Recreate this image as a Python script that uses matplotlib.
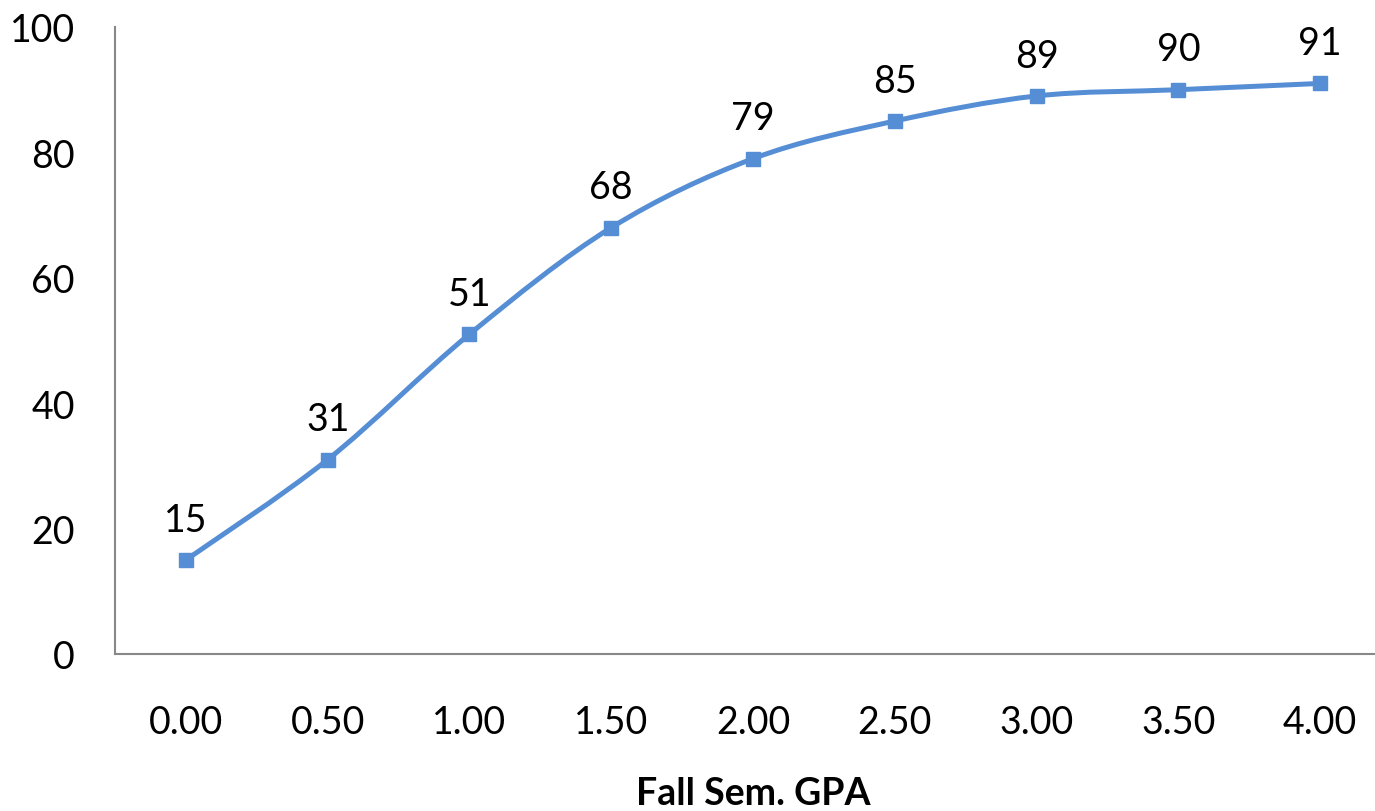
import numpy as np
import matplotlib
matplotlib.use("Agg")
import matplotlib.pyplot as plt
from matplotlib.path import Path
from matplotlib.patches import PathPatch

categories = ["0.00", "0.50", "1.00", "1.50", "2.00", "2.50", "3.00", "3.50", "4.00"]
values = [15, 31, 51, 68, 79, 85, 89, 90, 91]
y_ticks = [0, 20, 40, 60, 80, 100]
x_title = "Fall Sem. GPA"

plt.rcParams['font.family'] = ['Lato', 'DejaVu Sans']
line_color = "#558ED5"
fs = 27

fig = plt.figure(figsize=(13.75, 8.12), dpi=100)
W, H = 1375, 812
left, right, top, bottom = 115, 1391, 28, 655
ax = fig.add_axes([left / W, 1 - bottom / H, (right - left) / W, (bottom - top) / H])

x = np.arange(len(categories)) + 0.5
y = np.array(values, dtype=float)

# Smoothed line: Catmull-Rom style cubic Bezier segments through the points
verts = [(x[0], y[0])]
codes = [Path.MOVETO]
n = len(x)
for i in range(n - 1):
    p0 = np.array([x[max(i - 1, 0)], y[max(i - 1, 0)]])
    p1 = np.array([x[i], y[i]])
    p2 = np.array([x[i + 1], y[i + 1]])
    p3 = np.array([x[min(i + 2, n - 1)], y[min(i + 2, n - 1)]])
    c1 = p1 + (p2 - p0) / 6.0
    c2 = p2 - (p3 - p1) / 6.0
    verts += [tuple(c1), tuple(c2), tuple(p2)]
    codes += [Path.CURVE4] * 3
ax.add_patch(PathPatch(Path(verts, codes), facecolor="none", edgecolor=line_color,
                       lw=3.6, capstyle="round", joinstyle="round", zorder=2))
ax.plot(x, y, linestyle="none", marker="s", markersize=10.5, color=line_color, zorder=3)

for xi, yi in zip(x, values):
    ax.annotate(f"{yi:g}", (xi, yi), xytext=(0, 16), textcoords="offset points",
                ha="center", va="bottom", fontsize=fs, color="black")

ax.set_xlim(0, len(categories))
ax.set_ylim(0, 100)
ax.set_yticks(y_ticks)
ax.set_yticklabels([str(t) for t in y_ticks], fontsize=fs)
ax.set_xticks(x)
ax.set_xticklabels(categories, fontsize=fs)
ax.tick_params(axis="both", length=0)
ax.tick_params(axis="y", pad=29)
ax.tick_params(axis="x", pad=36)
ax.set_xlabel(x_title, fontsize=fs, fontweight="bold", labelpad=26)

for s in ["top", "right"]:
    ax.spines[s].set_visible(False)
for s in ["left", "bottom"]:
    ax.spines[s].set_color("#888888")
    ax.spines[s].set_linewidth(1.5)

fig.savefig("out.png", dpi=100)
